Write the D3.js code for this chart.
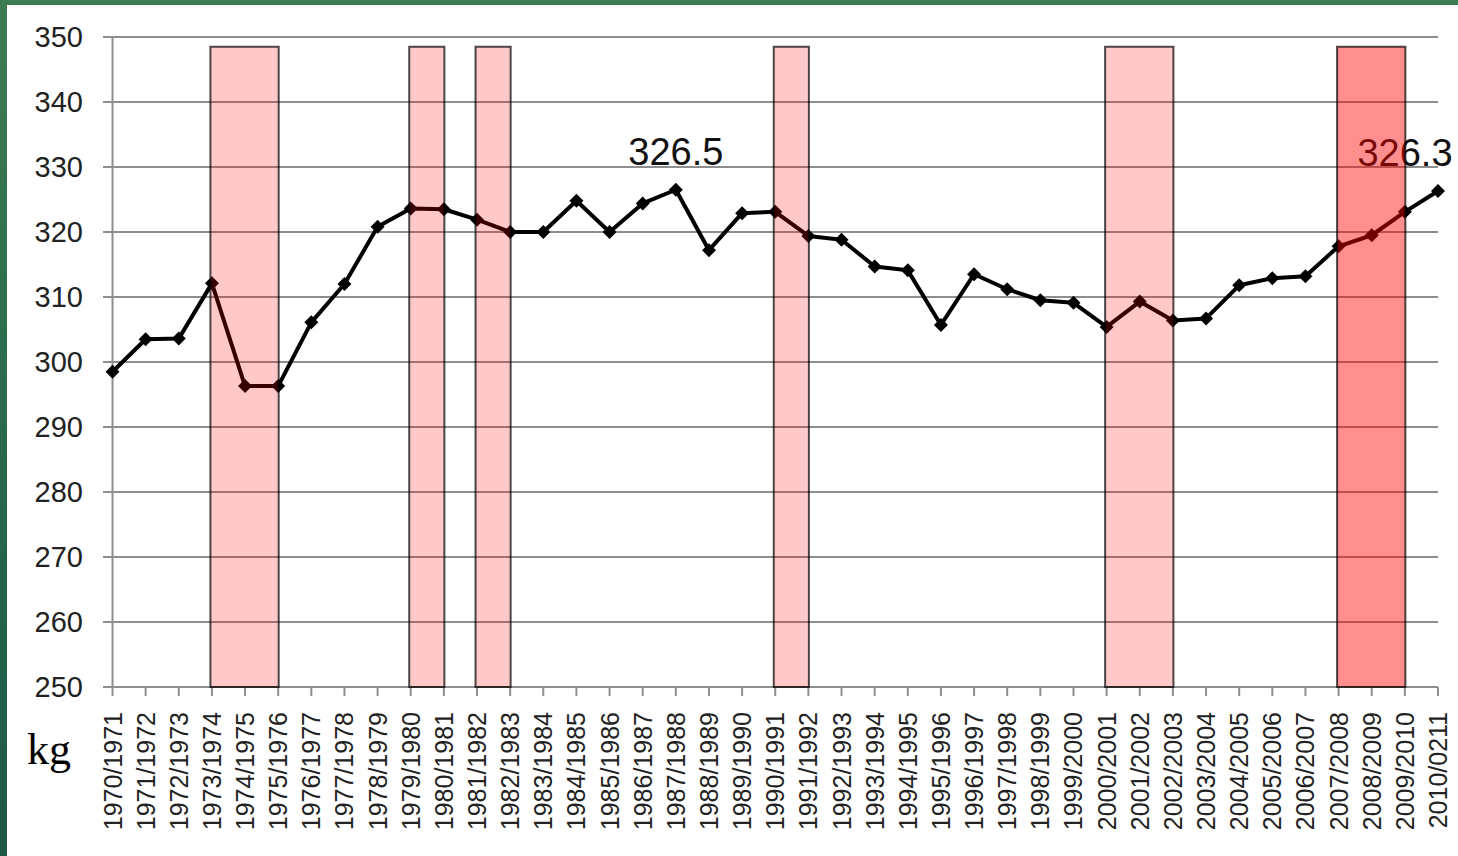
<!DOCTYPE html>
<html>
<head>
<meta charset="utf-8">
<script src="https://cdn.jsdelivr.net/npm/d3@7"></script>
<style>
  html, body { margin: 0; padding: 0; width: 1458px; height: 856px; overflow: hidden;
    background: linear-gradient(180deg, #3d7c52 0%, #2a6a4c 50%, #1d5846 100%); }
  #frame { position: absolute; left: 7px; top: 5px; width: 1451px; height: 851px; background: #fff; }
  svg { position: absolute; left: 0; top: 0; }
</style>
</head>
<body>
<div id="frame"></div>
<svg id="chart" width="1458" height="856"></svg>
<script>
const categories = [
  "1970/1971","1971/1972","1972/1973","1973/1974","1974/1975","1975/1976","1976/1977",
  "1977/1978","1978/1979","1979/1980","1980/1981","1981/1982","1982/1983","1983/1984",
  "1984/1985","1985/1986","1986/1987","1987/1988","1988/1989","1989/1990","1990/1991",
  "1991/1992","1992/1993","1993/1994","1994/1995","1995/1996","1996/1997","1997/1998",
  "1998/1999","1999/2000","2000/2001","2001/2002","2002/2003","2003/2004","2004/2005",
  "2005/2006","2006/2007","2007/2008","2008/2009","2009/2010","2010/0211"
];
const values = [
  298.5, 303.5, 303.6, 312.1, 296.3, 296.3, 306.1,
  312.0, 320.8, 323.6, 323.5, 321.9, 320.0, 320.0,
  324.8, 320.0, 324.4, 326.5, 317.2, 322.9, 323.1,
  319.4, 318.8, 314.7, 314.1, 305.7, 313.5, 311.2,
  309.5, 309.1, 305.4, 309.3, 306.4, 306.7, 311.8,
  312.9, 313.2, 317.8, 319.5, 323.1, 326.3
];
const yTicks = [250, 260, 270, 280, 290, 300, 310, 320, 330, 340, 350];
// shaded periods: [start category, end category, strong?]
const bandStarts = ["1973/1974","1979/1980","1981/1982","1990/1991","2000/2001","2007/2008"];
const bandEnds   = ["1975/1976","1980/1981","1982/1983","1991/1992","2002/2003","2009/2010"];
const bandStrong = [false, false, false, false, false, true];
const bandTop = 348.5;
const annotations = [
  { category: "1987/1988", text: "326.5", value: 326.5, dx: 0 },
  { category: "2010/0211", text: "326.3", value: 326.3, dx: -33 }
];
const unitLabel = "kg";

const svg = d3.select("#chart");
const x = d3.scalePoint().domain(categories).range([112.5, 1438]);
const y = d3.scaleLinear().domain([250, 350]).range([687, 37]);

const gridColor = "#8e8e8e";

// gridlines (extending left as tick marks)
svg.append("g").selectAll("line").data(yTicks).join("line")
  .attr("x1", 103).attr("x2", 1438)
  .attr("y1", d => y(d)).attr("y2", d => y(d))
  .attr("stroke", gridColor).attr("stroke-width", 2);

// y axis line
svg.append("line").attr("x1", x(categories[0])).attr("x2", x(categories[0]))
  .attr("y1", y(350)).attr("y2", y(250)).attr("stroke", gridColor).attr("stroke-width", 2);

// x axis ticks
svg.append("g").selectAll("line").data(categories).join("line")
  .attr("x1", d => x(d)).attr("x2", d => x(d))
  .attr("y1", y(250)).attr("y2", y(250) + 9)
  .attr("stroke", gridColor).attr("stroke-width", 2);

// y labels
svg.append("g").selectAll("text").data(yTicks).join("text")
  .attr("x", 83).attr("y", d => y(d)).attr("dy", "0.36em")
  .attr("text-anchor", "end")
  .attr("font-family", "Liberation Sans, Arial, sans-serif")
  .attr("font-size", 29).attr("fill", "#222")
  .text(d => d);

// x labels
svg.append("g").selectAll("text").data(categories).join("text")
  .attr("transform", d => `translate(${x(d)},712) rotate(-90)`)
  .attr("dy", "0.36em")
  .attr("text-anchor", "end")
  .attr("font-family", "Liberation Sans, Arial, sans-serif")
  .attr("font-size", 25).attr("fill", "#222")
  .text(d => d);

// unit label
svg.append("text").attr("x", 27).attr("y", 764)
  .attr("font-family", "Liberation Serif, Times New Roman, serif")
  .attr("font-size", 44).attr("fill", "#000").text(unitLabel);

// line
const pts = categories.map((c, i) => [c, values[i]]);
svg.append("path").datum(pts)
  .attr("d", d3.line().x(d => x(d[0])).y(d => y(d[1])))
  .attr("fill", "none").attr("stroke", "#000").attr("stroke-width", 4)
  .attr("stroke-linejoin", "round");

// markers (diamonds)
const diamond = d3.symbol().type(d3.symbolSquare).size(98);
svg.append("g").selectAll("path").data(pts).join("path")
  .attr("d", diamond)
  .attr("transform", d => `translate(${x(d[0])},${y(d[1])}) rotate(45)`)
  .attr("fill", "#000");

// annotations
svg.append("g").selectAll("text").data(annotations).join("text")
  .attr("x", d => x(d.category) + d.dx).attr("y", d => y(d.value) - 25)
  .attr("text-anchor", "middle")
  .attr("font-family", "Liberation Sans, Arial, sans-serif")
  .attr("font-size", 38).attr("fill", "#111")
  .text(d => d.text);

// bands on top (translucent)
svg.append("g").selectAll("rect").data(bandStarts.map((s, i) => ({ s, e: bandEnds[i], strong: bandStrong[i] })))
  .join("rect")
  .attr("x", d => x(d.s) - 1.5).attr("width", d => x(d.e) - x(d.s) + 2)
  .attr("y", y(bandTop)).attr("height", y(250) - y(bandTop))
  .attr("fill", d => d.strong ? "rgba(255,0,0,0.44)" : "rgba(255,0,0,0.21)")
  .attr("stroke", "rgba(0,0,0,0.7)").attr("stroke-width", 2);
</script>
</body>
</html>
